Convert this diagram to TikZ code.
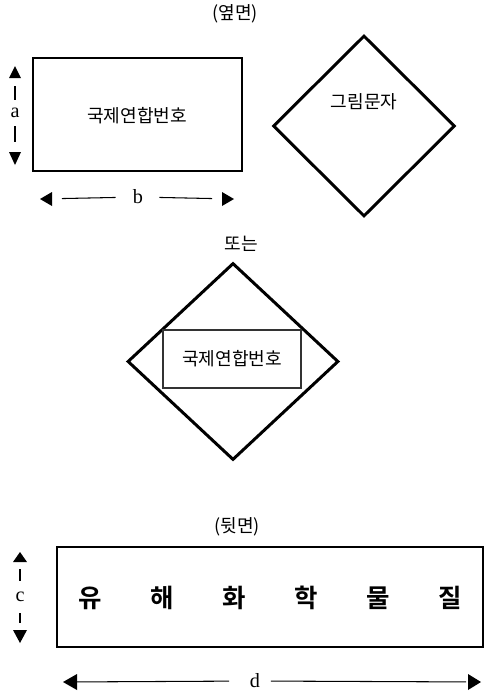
\documentclass[tikz,border=0pt]{standalone}
\usepackage{fontspec}
\setmainfont{Liberation Serif}
\newfontfamily\kor{Noto Sans CJK KR}
\newfontfamily\korbf{Noto Sans CJK KR Bold}
\usetikzlibrary{shapes.geometric}

\begin{document}
\begin{tikzpicture}[x=0.02cm,y=-0.02cm]
        \tikzstyle{every node}+=[inner sep=0pt]
        \tikzstyle{label}=[font=\kor\fontsize{10.3}{12}\selectfont]
        \tikzstyle{letter}=[font=\fontsize{11.5}{13}\selectfont]
        \tikzstyle{dim}=[line width=0.6pt]
        \useasboundingbox (0,0) rectangle (488,693);
        % side face
        \node [label] (side) at (235,14) {(옆면)};
        \node [draw, line width=1.2pt, minimum width=4.18cm, minimum height=2.26cm] (plate) at (137.5,114.5) {};
        \node [label] (unno) at (137,116) {국제연합번호};
        \coordinate (aTop) at (15,66);
        \coordinate (aBot) at (15,165);
        \node [letter] (aLbl) at (15,113) {a};
        \draw [dim, shorten <=0.16cm, shorten >=0.4cm] (aLbl) -- (aTop);
        \draw [dim, shorten <=0.16cm, shorten >=0.46cm] (aLbl) -- (aBot);
        \fill (aTop) -- ++(6,12) -- ++(-12,0) -- cycle;
        \fill (aBot) -- ++(6,-13) -- ++(-12,0) -- cycle;
        \coordinate (bLeft) at (40,199);
        \coordinate (bRight) at (234,199);
        \node [letter] (bLbl) at (138,197) {b};
        \draw [dim, shorten <=0.34cm, shorten >=0.44cm] (bLbl) -- (bLeft);
        \draw [dim, shorten <=0.32cm, shorten >=0.44cm] (bLbl) -- (bRight);
        \fill (bLeft) -- ++(12,-7) -- ++(0,14) -- cycle;
        \fill (bRight) -- ++(-12,-7) -- ++(0,14) -- cycle;
        % pictogram
        \node [diamond, draw, line width=1.7pt, minimum width=3.64cm, minimum height=3.62cm] (picto) at (364,126) {};
        \node [label] (pictoLbl) at (364,102) {그림문자};
        % or
        \node [label] (or) at (241,244) {또는};
        \node [diamond, draw, line width=1.7pt, minimum width=4.22cm, minimum height=3.94cm] (picto2) at (233,361.5) {};
        \node [draw, line width=1.1pt, draw=black!80, minimum width=2.76cm, minimum height=1.16cm] (plate2) at (232,359) {};
        \node [label] (unno2) at (232,359) {국제연합번호};
        % back face
        \node [label] (back) at (237,527) {(뒷면)};
        \node [draw, line width=1.2pt, minimum width=8.52cm, minimum height=2.0cm] (backplate) at (270,597) {};
        \foreach \ch [count=\i] in {유,해,화,학,물,질}
          \node [font=\korbf\fontsize{14.5}{16}\selectfont] (ch\i) at (18+72*\i,598) {\ch};
        \coordinate (cTop) at (20,552);
        \coordinate (cBot) at (20,643);
        \node [letter] (cLbl) at (20,597) {c};
        \draw [dim, shorten <=0.22cm, shorten >=0.34cm] (cLbl) -- (cTop);
        \draw [dim, shorten <=0.22cm, shorten >=0.4cm] (cLbl) -- (cBot);
        \fill (cTop) -- ++(7,10) -- ++(-14,0) -- cycle;
        \fill (cBot) -- ++(7,-13) -- ++(-14,0) -- cycle;
        \coordinate (dLeft) at (63,682);
        \coordinate (dRight) at (481,682);
        \node [letter] (dLbl) at (255,681) {d};
        \draw [dim, shorten <=0.41cm, shorten >=0.28cm] (dLbl) -- (dLeft);
        \draw [dim, shorten <=0.21cm, shorten >=0.3cm] (dLbl) -- (dRight);
        \fill (dLeft) -- ++(14,-8) -- ++(0,16) -- cycle;
        \fill (dRight) -- ++(-13,-8) -- ++(0,16) -- cycle;
\end{tikzpicture}
\end{document}
